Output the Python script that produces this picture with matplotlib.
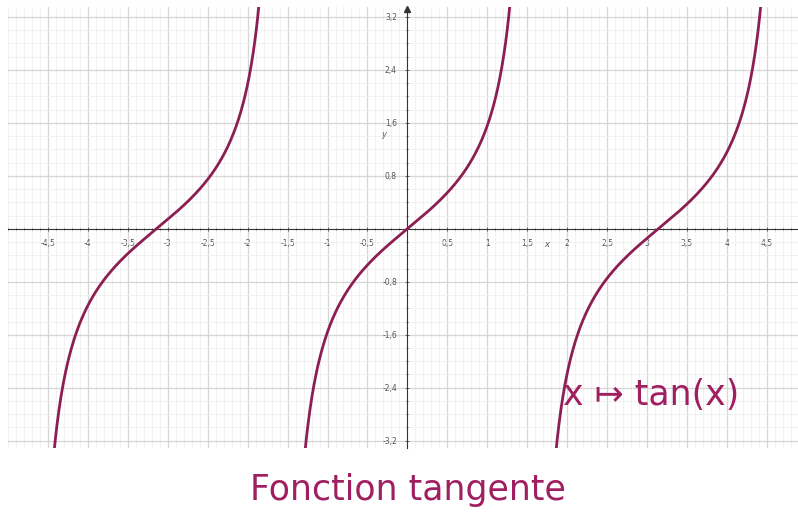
import numpy as np
import matplotlib.pyplot as plt
from matplotlib.ticker import MultipleLocator

# branches of x -> tan(x) shown in the picture (centres of each branch)
branch_centers = [-np.pi, 0.0, np.pi]
x_ticks = [-4.5, -4, -3.5, -3, -2.5, -2, -1.5, -1, -0.5, 0.5, 1, 1.5, 2, 2.5, 3, 3.5, 4, 4.5]
y_ticks = [-3.2, -2.4, -1.6, -0.8, 0.8, 1.6, 2.4, 3.2]
x_limits = (-5.0, 4.89)
y_limits = (-3.31, 3.35)

curve_color = '#8c1f52'
text_color = '#a01f60'


def fr(v):
    # virgule décimale, comme sur la figure
    s = f"{v:g}"
    return s.replace('.', ',')


fig = plt.figure(figsize=(7.98, 5.13), dpi=100)
ax = fig.add_axes([8 / 798, 1 - 448 / 513, 790 / 798, 441 / 513])

# grille
ax.xaxis.set_major_locator(MultipleLocator(0.5))
ax.xaxis.set_minor_locator(MultipleLocator(0.1))
ax.yaxis.set_major_locator(MultipleLocator(0.8))
ax.yaxis.set_minor_locator(MultipleLocator(0.2))
ax.grid(True, which='major', color='#d6d6d6', linewidth=0.9)
ax.grid(True, which='minor', color='#efefef', linewidth=0.6)
ax.set_axisbelow(True)

# axes au centre
for side in ['top', 'right']:
    ax.spines[side].set_visible(False)
ax.spines['left'].set_position('zero')
ax.spines['bottom'].set_position('zero')
ax.spines['left'].set_color('#333333')
ax.spines['bottom'].set_color('#333333')
ax.spines['left'].set_linewidth(0.8)
ax.spines['bottom'].set_linewidth(0.8)

ax.tick_params(which='both', direction='inout', color='#555555', length=3, width=0.6,
               labelsize=5.5, labelcolor='#555555', pad=6)
ax.tick_params(which='minor', length=2)

# courbe tangente
for c in branch_centers:
    xs = np.linspace(c - 1.5, c + 1.5, 600)
    ys = np.tan(xs - c)
    ax.plot(xs, ys, color=curve_color, linewidth=2.0, solid_capstyle='butt', zorder=3)

ax.set_xlim(*x_limits)
ax.set_ylim(*y_limits)

ax.set_xticks(x_ticks)
ax.set_xticklabels([fr(v) for v in x_ticks])
ax.set_yticks(y_ticks)
ax.set_yticklabels([fr(v) for v in y_ticks])

# flèche en haut de l'axe des ordonnées
ax.plot(0, y_limits[1] - 0.03, marker='^', color='#333333', markersize=4,
        clip_on=False, zorder=4)

# noms des axes
ax.text(1.75, -0.23, 'x', fontsize=6, color='#555555', style='italic', ha='center', va='center')
ax.text(-0.3, 1.42, 'y', fontsize=6, color='#555555', style='italic', ha='center', va='center')

# étiquettes
fig.text(651 / 798, 1 - 395 / 513, 'x \u21a6 tan(x)', fontsize=25, color=text_color,
         ha='center', va='center', family='DejaVu Sans')
fig.text(408 / 798, 1 - 490 / 513, 'Fonction tangente', fontsize=25, color=text_color,
         ha='center', va='center', family='DejaVu Sans')

fig.savefig('out.png', dpi=100)
